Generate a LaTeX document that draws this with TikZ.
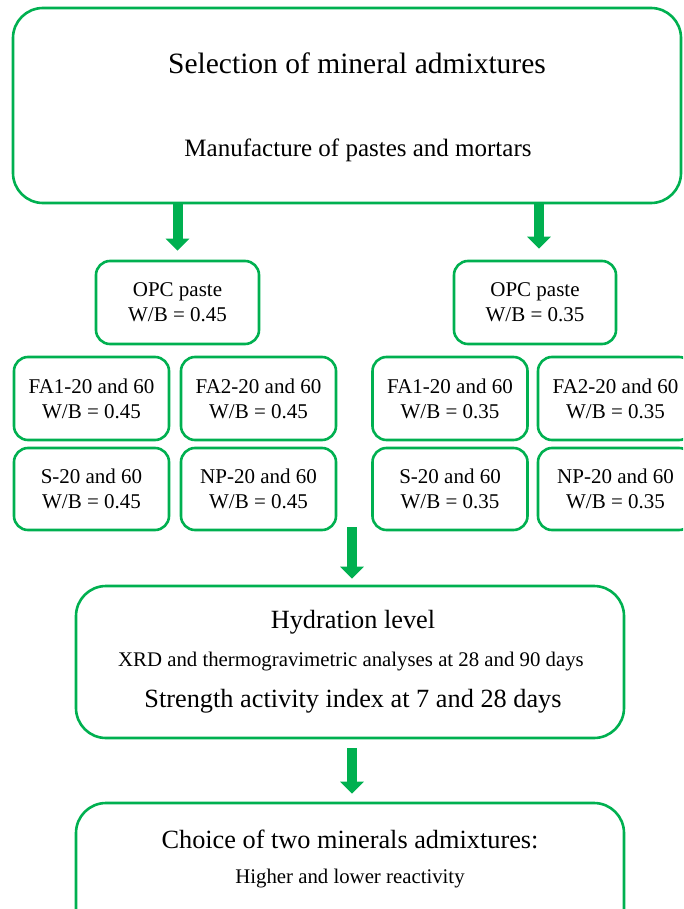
\documentclass[tikz,border=0pt]{standalone}
\usepackage{fontspec}
\setmainfont{Liberation Serif}
\usepackage{tikz}
\usetikzlibrary{arrows, arrows.meta}

\definecolor{admgreen}{RGB}{0,176,80}
\tikzset{
	bigbox/.style={draw=admgreen, line width=2.6pt, rounded corners=30pt, inner sep=0pt},
	smallbox/.style={draw=admgreen, line width=2.6pt, rounded corners=14pt, align=center,
		minimum width=155pt, minimum height=82pt, font=\fontsize{21}{25}\selectfont},
	flow/.style={draw=admgreen, line width=10pt, -{Triangle[width=23pt,length=12pt]}},
	titletext/.style={font=\fontsize{29.5}{34}\selectfont},
	subtext/.style={font=\fontsize{25}{30}\selectfont},
	midtext/.style={font=\fontsize{26.3}{30}\selectfont},
	lowtext/.style={font=\fontsize{20.8}{24}\selectfont}
}

\begin{document}
\begin{tikzpicture}[x=1pt, y=-1pt]
	\useasboundingbox (0,0) rectangle (683,909);
	\clip (0,0) rectangle (683,909);

	\node[bigbox, minimum width=668pt, minimum height=195pt] (sel) at (347,105.5) {};	%selection box
	\node[titletext] (seltxt) at (357,63) {Selection of mineral admixtures};
	\node[subtext] (mantxt) at (358,150) {Manufacture of pastes and mortars};

	\node[smallbox, minimum width=163pt, minimum height=83pt] (opcL) at (177.5,302.5) {OPC paste\\W/B = 0.45};	%left paste
	\node[smallbox, minimum width=162pt, minimum height=83pt] (opcR) at (535,302.5) {OPC paste\\W/B = 0.35};	%right paste

	\node[smallbox, minimum height=83pt] (faoneL) at (91.5,398.5) {FA1-20 and 60\\W/B = 0.45};
	\node[smallbox, minimum height=83pt] (fatwoL) at (258.5,398.5) {FA2-20 and 60\\W/B = 0.45};
	\node[smallbox] (slagL) at (91.5,489) {S-20 and 60\\W/B = 0.45};
	\node[smallbox] (npL) at (258.5,489) {NP-20 and 60\\W/B = 0.45};

	\node[smallbox, minimum height=83pt] (faoneR) at (450,398.5) {FA1-20 and 60\\W/B = 0.35};
	\node[smallbox, minimum height=83pt] (fatwoR) at (615.5,398.5) {FA2-20 and 60\\W/B = 0.35};
	\node[smallbox] (slagR) at (450,489) {S-20 and 60\\W/B = 0.35};
	\node[smallbox] (npR) at (615.5,489) {NP-20 and 60\\W/B = 0.35};

	\node[bigbox, minimum width=548pt, minimum height=152pt] (hyd) at (350,662) {};	%hydration box
	\node[midtext] (hydtxt) at (353,622) {Hydration level};
	\node[lowtext] (xrdtxt) at (351,662) {XRD and thermogravimetric analyses at 28 and 90 days};
	\node[midtext] (saitxt) at (353,701) {Strength activity index at 7 and 28 days};

	\node[bigbox, minimum width=548pt, minimum height=152pt] (cho) at (350,879) {};	%choice box
	\node[midtext] (chotxt) at (350,839) {Choice of two minerals admixtures:};
	\node[lowtext] (reatxt) at (350,879) {Higher and lower reactivity};

	\coordinate (gridend) at (352,527);
	\draw[flow] (sel.south -| opcL.north) -- ([yshift=9pt]opcL.north);			%left arrow
	\draw[flow] ([xshift=4pt]sel.south -| opcR.north) -- ([xshift=4pt,yshift=11pt]opcR.north);	%right arrow
	\draw[flow] (gridend) -- ([xshift=2pt,yshift=6pt]hyd.north);				%to hydration
	\draw[flow] ([xshift=2pt,yshift=-9pt]hyd.south) -- ([xshift=2pt,yshift=8pt]cho.north);	%to choice
\end{tikzpicture}
\end{document}
